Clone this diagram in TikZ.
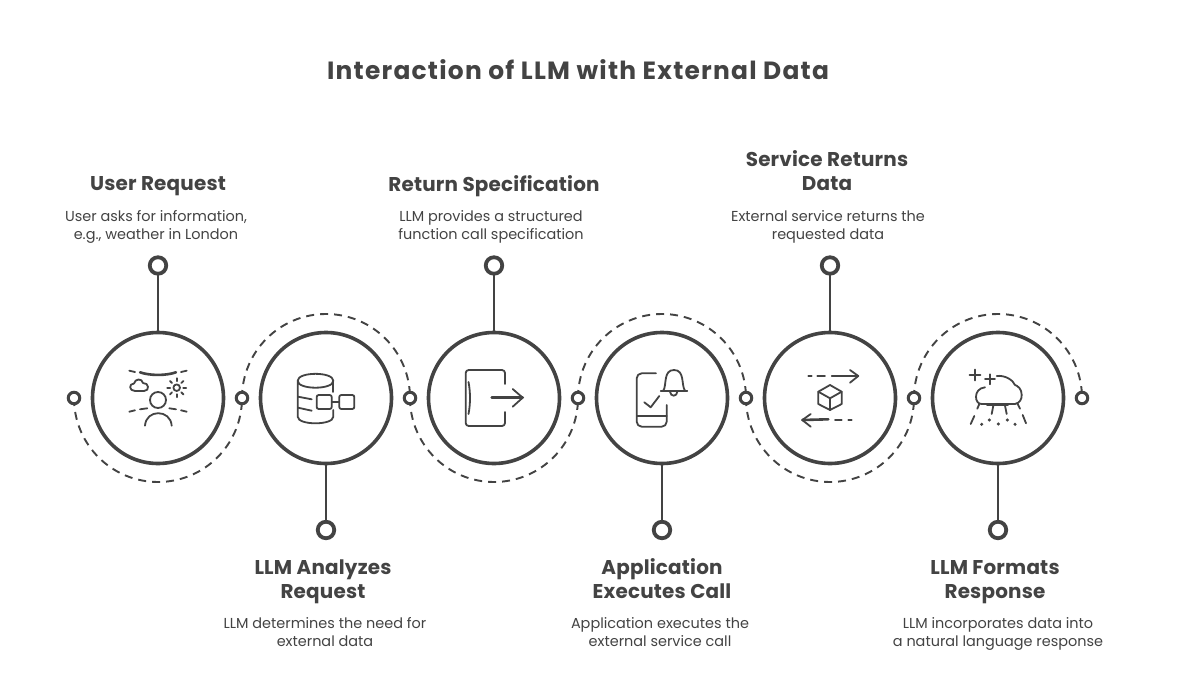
\documentclass[tikz,border=0pt]{standalone}
\usepackage{fontspec}
\setmainfont{Poppins}
\usetikzlibrary{backgrounds,calc}
\definecolor{ink}{HTML}{434343}
\tikzset{
  bigcircle/.style={circle,draw=ink,fill=white,line width=3.6bp,minimum size=131bp,inner sep=0pt,outer sep=0pt},
  dot/.style={circle,draw=ink,fill=white,line width=3bp,minimum size=11.5bp,inner sep=0pt,outer sep=0pt},
  enddot/.style={circle,draw=ink,fill=white,line width=3.8bp,minimum size=16.5bp,inner sep=0pt,outer sep=0pt},
  conn/.style={draw=ink,line width=2.4bp},
  dashconn/.style={draw=ink,line width=1.9bp,dash pattern=on 8bp off 6bp},
  iconline/.style={draw=ink,line width=1.8bp,line cap=round,line join=round},
  iconthick/.style={draw=ink,line width=2.6bp,line cap=round,line join=round},
  titletext/.style={text=ink,font=\fontsize{25}{30}\selectfont\bfseries\addfontfeature{LetterSpace=5},inner sep=0pt},
  headtext/.style={text=ink,align=center,font=\fontsize{20}{24}\selectfont\bfseries\addfontfeature{LetterSpace=1},inner sep=0pt},
  bodytext/.style={text=ink,align=center,font=\fontsize{14.5}{18}\selectfont,inner sep=0pt},
}
\begin{document}
\begin{tikzpicture}[x=1bp,y=-1bp]
\useasboundingbox (0,0) rectangle (1180,676);
\node[titletext] (title) at (578,70) {Interaction of LLM with External Data};
% small joints
\foreach \n/\x in {0/74,1/242,2/410,3/578,4/746,5/914,6/1082}
  \node[dot] (p\n) at (\x,398) {};
% big circles
\foreach \n/\x in {1/158,2/326,3/494,4/662,5/830,6/998}
  \node[bigcircle] (c\n) at (\x,398) {};
% end dots
\node[enddot] (t1) at (158,265.5) {};
\node[enddot] (t3) at (494,265.5) {};
\node[enddot] (t5) at (830,265.5) {};
\node[enddot] (b2) at (326,530) {};
\node[enddot] (b4) at (662,530) {};
\node[enddot] (b6) at (998,530) {};
\draw[conn] (t1) -- (c1);
\draw[conn] (t3) -- (c3);
\draw[conn] (t5) -- (c5);
\draw[conn] (b2) -- (c2);
\draw[conn] (b4) -- (c4);
\draw[conn] (b6) -- (c6);
\begin{scope}[on background layer]
\fill[white] (0,0) rectangle (1180,676);
\draw[dashconn] (p0.center) arc[start angle=180,end angle=360,radius=84bp];
\draw[dashconn] (p1.center) arc[start angle=180,end angle=0,radius=84bp];
\draw[dashconn] (p2.center) arc[start angle=180,end angle=360,radius=84bp];
\draw[dashconn] (p3.center) arc[start angle=180,end angle=0,radius=84bp];
\draw[dashconn] (p4.center) arc[start angle=180,end angle=360,radius=84bp];
\draw[dashconn] (p5.center) arc[start angle=180,end angle=0,radius=84bp];
\end{scope}
% texts
\node[headtext] (h1) at (158,186) {User Request};
\node[bodytext] (d1) at (156,227) {User asks for information,\\e.g., weather in London};
\node[headtext] (h2) at (323,582) {LLM Analyzes\\Request};
\node[bodytext] (d2) at (325,632) {LLM determines the need for\\external data};
\node[headtext] (h3) at (494,186) {Return Specification};
\node[bodytext] (d3) at (491,227) {LLM provides a structured\\function call specification};
\node[headtext] (h4) at (662,579) {Application\\Executes Call};
\node[bodytext] (d4) at (660,632) {Application executes the\\external service call};
\node[headtext] (h5) at (827,171) {Service Returns\\Data};
\node[bodytext] (d5) at (828,227) {External service returns the\\requested data};
\node[headtext] (h6) at (995,582) {LLM Formats\\Response};
\node[bodytext] (d6) at (998,634) {LLM incorporates data into\\a natural language response};
% icon 1
\draw[iconthick] (140,372.3) .. controls (150,375.8) and (166,375.8) .. (176,372.3);
\draw[iconline] (129.3,370.7)--(135,372) (181,372)--(186.7,370.7);
\draw[iconline] (135,391) .. controls (129,391) and (128.5,383.5) .. (134,383.5) .. controls (135,378.5) and (142,378) .. (143,383) .. controls (149,382.5) and (150,391) .. (144,391) -- cycle;
\draw[iconline] (176.7,387.7) circle[radius=3.3bp];
\foreach \a in {0,45,...,315}
  \draw[iconline] ($(176.7,387.7)+(\a:6.5bp)$) -- ($(176.7,387.7)+(\a:9.5bp)$);
\draw[iconline] (158,400) circle[radius=8bp];
\draw[iconline] (129.3,411.7)--(135,410.3) (140,409.3)--(147.3,408.3) (169.3,408.3)--(176,409.3) (181,410.3)--(186.7,411.7);
\draw[iconline] (145,425.7) .. controls (146,409) and (170.5,409) .. (171.7,425.7);
% icon 2
\draw[iconline] (297.7,380.8) .. controls (297.7,371.5) and (333.3,371.5) .. (333.3,380.8) .. controls (333.3,390) and (297.7,390) .. (297.7,380.8) -- (297.7,416.7) .. controls (297.7,425.5) and (333.3,425.5) .. (333.3,416.7) -- (333.3,410);
\draw[iconline] (333.3,380.8) -- (333.3,392);
\draw[iconline] (298,396.7) -- (311.7,399.3) (298,407.7) -- (311.7,410.7);
\draw[iconline,rounded corners=2bp] (316.7,395) rectangle (331.7,409);
\draw[iconline,rounded corners=2bp] (339.3,395) rectangle (354.3,409);
\draw[iconline] (331.7,402) -- (339.3,402);
% icon 3
\draw[iconline,rounded corners=3bp] (505,384) -- (505,370) -- (465.7,370) -- (465.7,426) -- (505,426) -- (505,412);
\draw[iconline] (468.5,382) .. controls (470.5,392) and (470.5,404) .. (468.5,414);
\draw[iconthick] (491.7,397.7) -- (522.7,397.7);
\draw[iconline] (512.7,389) -- (522.7,397.7) -- (512.7,406.7);
% icon 4
\draw[iconline,rounded corners=5bp] (656,373.3) -- (636.7,373.3) -- (636.7,426.7) -- (666.7,426.7) -- (666.7,405);
\draw[iconline] (637,416) -- (666.7,416);
\draw[iconline] (644.3,402.3) -- (650.7,407.3) -- (659.3,396);
\draw[iconline] (663.3,390.7) .. controls (667,385) and (663,370) .. (674,370) .. controls (685,370) and (681,385) .. (685,390.7);
\draw[iconline] (660.7,390.7) -- (687.3,390.7);
\draw[iconline] (670,391.7) .. controls (670.5,397) and (677,397) .. (677.3,391.7);
% icon 5
\draw[iconline] (808.3,376)--(811.7,376) (817.3,376)--(825,376) (831.7,376)--(858.3,376);
\draw[iconline] (850,370) -- (858.3,376) -- (850,382.7);
\draw[iconline] (830,385)--(841.7,391.7)--(841.7,404)--(830,410)--(818.3,404)--(818.3,391.7)--cycle;
\draw[iconline] (818.3,391.7)--(830,398.3)--(841.7,391.7) (830,398.3)--(830,410);
\draw[iconthick] (802.3,420)--(828.3,419.3);
\draw[iconline] (810.7,414)--(802.3,420)--(810.7,426.7);
\draw[iconline] (835,420)--(841.7,420) (848.3,420)--(851.7,420);
% icon 6
\draw[iconline] (969.5,375)--(980.5,375) (975,369.5)--(975,380.5);
\draw[iconline] (985,379.3)--(995,379.3) (990,374.3)--(990,384.3);
\draw[iconline] (985,387.3) .. controls (979,388) and (976,392) .. (976,396.7) .. controls (976,401) and (978,404) .. (981.7,404) -- (1015,404) .. controls (1020,403) and (1021.7,399) .. (1021.7,395) .. controls (1021.7,389) and (1018,386) .. (1015,385) .. controls (1013,380) and (1005,375) .. (996.7,376);
\draw[iconthick] (987,404.3) -- (1008,404.3);
\draw[iconline] (979.3,404)--(977.3,408.7) (993.3,405.7)--(991.7,414) (1005,405.7)--(1006.7,414) (1017.3,403.3)--(1020,408.7);
\draw[iconline] (974.3,416)--(970.7,424) (1022.7,415)--(1026,423.3);
\foreach \p in {(981.7,424.3),(989.3,420),(998.3,424),(1007.3,420),(1015,424.3)}
  \fill[ink] \p circle[radius=1.7bp];
\end{tikzpicture}
\end{document}
